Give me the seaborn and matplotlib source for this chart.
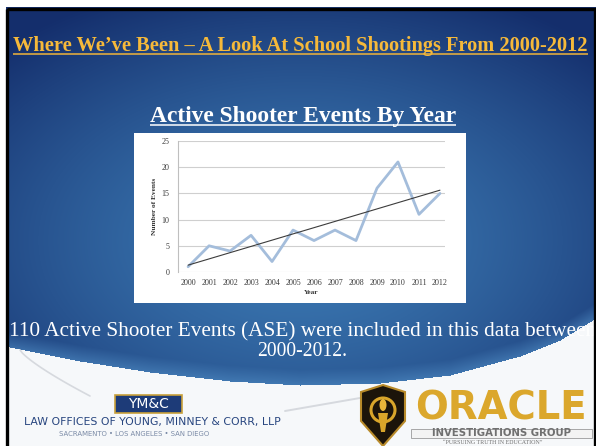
import numpy as np
import pandas as pd
import matplotlib
matplotlib.use("Agg")
import matplotlib.pyplot as plt
import seaborn as sns
from matplotlib.patches import Rectangle, Polygon, Circle, Ellipse

# ---------------- data ----------------
years = [2000, 2001, 2002, 2003, 2004, 2005, 2006, 2007, 2008, 2009, 2010, 2011, 2012]
events = [1, 5, 4, 7, 2, 8, 6, 8, 6, 16, 21, 11, 15]
year_labels = [str(y) for y in years]
y_ticks = [0, 5, 10, 15, 20, 25]

title_text = "Where We\u2019ve Been \u2013 A Look At School Shootings From 2000-2012"
subtitle_text = "Active Shooter Events By Year"
body_line1 = "110 Active Shooter Events (ASE) were included in this data between"
body_line2 = "2000-2012."

df = pd.DataFrame({"Year": years, "Events": events})

W, H = 596, 446
sns.set_theme(style="white")
plt.rcParams["font.family"] = ["Liberation Serif", "DejaVu Serif"]

fig = plt.figure(figsize=(W / 100, H / 100), dpi=100)
fig.patch.set_facecolor("white")
bg = fig.add_axes([0, 0, 1, 1])
bg.set_xlim(0, W)
bg.set_ylim(H, 0)
bg.axis("off")

# ---------------- slide background ----------------
yy, xx = np.mgrid[0:H, 0:W].astype(float)
d = np.sqrt(((xx - 300) / 430) ** 2 + ((yy - 240) / 270) ** 2)
t = np.clip(d, 0, 1) ** 1.4
light = np.array([60, 122, 180]) / 255
dark = np.array([20, 46, 108]) / 255
img = light * (1 - t[..., None]) + dark * t[..., None]
wx = [0, 80, 150, 230, 300, 380, 450, 520, 560, 596]
wy = [345, 361, 372, 381, 385, 383, 375, 356, 340, 318]
yb = np.interp(xx[0], wx, wy)
band = (yy > yb[None, :] - 16) & (yy <= yb[None, :])
hl = np.array([82, 144, 200]) / 255
f = np.clip((yy - (yb[None, :] - 16)) / 16, 0, 1)
img[band] = (img * (1 - 0.55 * f[..., None]) + hl * 0.55 * f[..., None])[band]
below = yy > yb[None, :]
white_col = np.array([246, 248, 250]) / 255
img[below] = white_col
img[(xx < 6) | (yy < 7)] = 1.0
bg.imshow(img, extent=(0, W, H, 0), zorder=0, interpolation="bilinear")
bg.set_xlim(0, W)
bg.set_ylim(H, 0)

# faint swooshes in white area
sx = np.linspace(20, 90, 30)
bg.plot(sx, 350 + 46 * ((sx - 20) / 70) ** 0.8, color="#d6d9de", lw=1.2, zorder=1)
sx2 = np.linspace(285, 360, 30)
bg.plot(sx2, 411 - 13 * ((sx2 - 285) / 75), color="#d6d9de", lw=1.4, zorder=1)

# slide frame
bg.add_patch(Rectangle((7, 8.5), 587.5, 445, fill=False, ec="black", lw=2.4, zorder=6))

# chart white box
bg.add_patch(Rectangle((134, 133), 332, 170, fc="white", ec="none", zorder=2))

renderer = fig.canvas.get_renderer()


def fit_text(x, y, s, width, underline=False, ul_color=None, ul_off=2.5, **kw):
    txt = bg.text(x, y, s, ha="center", va="baseline", **kw)
    bb = txt.get_window_extent(renderer)
    txt.set_fontsize(txt.get_fontsize() * width / bb.width)
    if underline:
        bb = txt.get_window_extent(renderer)
        bg.plot([bb.x0, bb.x1], [y + ul_off, y + ul_off], color=ul_color,
                lw=1.1, zorder=kw.get("zorder", 3), solid_capstyle="butt")
    return txt


# titles
fit_text(300.5, 51, title_text, 575, underline=True, ul_color="#f0b43a",
         color="#f6b93a", fontweight="bold", fontsize=15, zorder=3)
fit_text(303, 122, subtitle_text, 308, underline=True, ul_color="white",
         color="white", fontweight="bold", fontsize=16, zorder=3)
fit_text(303, 336, body_line1, 590, color="white", fontsize=14, zorder=3)
fit_text(302, 356.5, body_line2, 91, color="white", fontsize=14, zorder=3)

# ---------------- chart ----------------
ax = fig.add_axes([178 / W, 1 - 272 / H, (445 - 178) / W, (272 - 141) / H])
ax.set_facecolor("none")
ax.set_zorder(4)
sns.lineplot(data=df, x="Year", y="Events", ax=ax, color="#a4bddb", lw=2.0)
sns.regplot(data=df, x="Year", y="Events", ax=ax, scatter=False, ci=None,
            truncate=True, line_kws=dict(color="#3c3c3c", lw=0.8))
ax.set_xlim(1999.52, 2012.24)
ax.set_ylim(0, 25)
ax.set_xticks(years)
ax.set_xticklabels(year_labels)
ax.set_yticks(y_ticks)
ax.yaxis.grid(True, color="#cfcfcf", lw=0.8)
ax.xaxis.grid(False)
ax.set_axisbelow(True)
for s in ["top", "right", "bottom"]:
    ax.spines[s].set_visible(False)
ax.spines["left"].set_color("#bfbfbf")
ax.spines["left"].set_linewidth(0.8)
ax.tick_params(axis="both", length=0, labelsize=5.8, labelcolor="#3a3a3a")
ax.tick_params(axis="y", pad=6)
ax.tick_params(axis="x", pad=5)
ax.set_xlabel("Year", fontsize=5.3, fontweight="bold", color="#333333", labelpad=2.5)
ax.set_ylabel("Number of Events", fontsize=5.3, fontweight="bold", color="#333333", labelpad=3)

# ---------------- logos ----------------
bg.add_patch(Rectangle((115, 395), 67, 18, fc="#1d3b78", ec="#c9a13a", lw=1.2, zorder=3))
bg.text(148.5, 404.5, "YM&C", color="white", fontsize=10, family="DejaVu Sans",
        ha="center", va="center", zorder=4)
fit_text(152, 425.5, "LAW OFFICES OF YOUNG, MINNEY & CORR, LLP", 258,
         color="#27457f", fontsize=6, family="DejaVu Sans", zorder=3)
fit_text(134, 435.5, "SACRAMENTO \u2022 LOS ANGELES \u2022 SAN DIEGO", 152,
         color="#7a8aa6", fontsize=4.5, family="DejaVu Sans", zorder=3)

# oracle shield
bg.add_patch(Polygon([(361, 392), (383, 385), (405, 392), (405, 421), (383, 446), (361, 421)],
                     closed=True, fc="#1c140a", ec="#b88a2a", lw=1.5, zorder=3))
bg.add_patch(Circle((383, 410), 12, fc="none", ec="#d9a52a", lw=2.2, zorder=4))
bg.add_patch(Ellipse((383, 405), 7, 12, fc="#e8b53a", ec="none", zorder=4))
bg.add_patch(Polygon([(378, 413), (388, 413), (385, 432), (381, 432)], closed=True,
                     fc="#d9a52a", ec="none", zorder=4))
fit_text(501, 420, "ORACLE", 172, color="#dba72c", fontweight="bold", fontsize=28,
         family="DejaVu Sans", zorder=3)
bg.add_patch(Rectangle((411, 428.5), 181, 9, fc="#f3f3f3", ec="#9a9a9a", lw=0.6, zorder=3))
fit_text(501.5, 436.5, "INVESTIGATIONS GROUP", 140, color="#707070", fontweight="bold",
         fontsize=6, family="DejaVu Sans", zorder=4)
fit_text(493, 444.5, "\u201cPURSUING TRUTH IN EDUCATION\u201d", 100, color="#707070",
         fontsize=4, zorder=3)

fig.savefig("out.png", dpi=100, facecolor="white")
